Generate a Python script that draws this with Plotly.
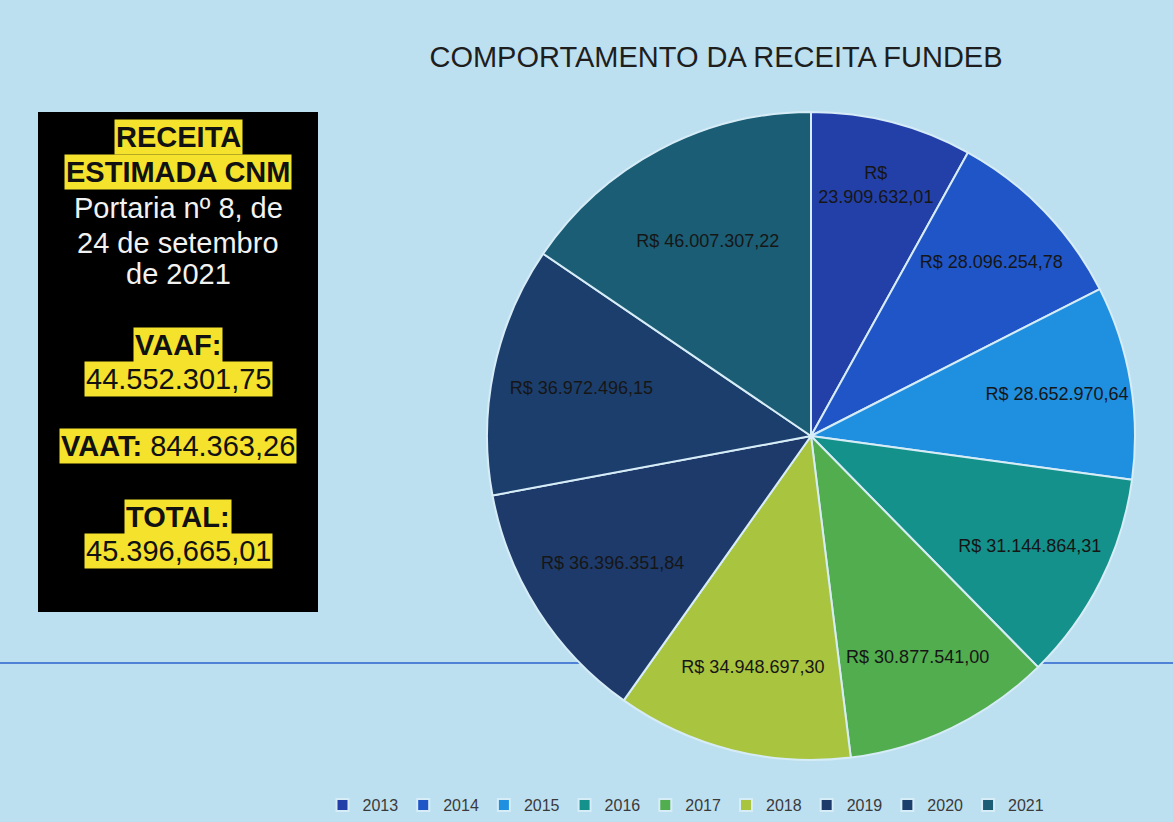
import plotly.graph_objects as go

W, H = 1173, 822

anos = ['2013', '2014', '2015', '2016', '2017', '2018', '2019', '2020', '2021']
receita = [23909632.01, 28096254.78, 28652970.64, 31144864.31, 30877541.00,
           34948697.30, 36396351.84, 36972496.15, 46007307.22]
rotulos = ['R$<br>23.909.632,01', 'R$ 28.096.254,78', 'R$ 28.652.970,64',
           'R$ 31.144.864,31', 'R$ 30.877.541,00', 'R$ 34.948.697,30',
           'R$ 36.396.351,84', 'R$ 36.972.496,15', 'R$ 46.007.307,22']
cores = ['#2340a8', '#1f55c6', '#1f8fe0', '#14918a', '#52ad4f',
         '#a9c43f', '#1d3a6b', '#1c3e6c', '#1a5d74']


def px(x):
    return x / W


def py(y):
    return 1 - y / H


R = 324
fig = go.Figure()
fig.add_trace(go.Pie(
    labels=anos, values=receita, text=rotulos,
    textinfo='text', textposition='inside', insidetextorientation='horizontal',
    marker=dict(colors=cores, line=dict(color='#d6ecf7', width=2)),
    sort=False, direction='clockwise', rotation=0,
    textfont=dict(family='Arial', size=18, color='#161616'),
    domain=dict(x=[px(811 - R), px(811 + R)], y=[py(436 + R), py(436 - R)]),
    hoverinfo='label+text'))

shapes = [
    dict(type='line', xref='paper', yref='paper', x0=0, x1=1, y0=py(663), y1=py(663),
         line=dict(color='#4f82d6', width=2), layer='below'),
    dict(type='rect', xref='paper', yref='paper', x0=px(38), x1=px(318),
         y0=py(612), y1=py(112), fillcolor='#000000', line=dict(width=0)),
]

amarelo = '#f4e22c'
caixa = [
    ('<b>RECEITA</b>', 137, True),
    ('<b>ESTIMADA CNM</b>', 172, True),
    ('Portaria nº 8, de', 208, False),
    ('24 de setembro', 243, False),
    ('de 2021', 274, False),
    ('<b>VAAF:</b>', 345, True),
    ('44.552.301,75', 379, True),
    ('<b>VAAT:</b> 844.363,26', 446, True),
    ('<b>TOTAL:</b>', 517, True),
    ('45.396,665,01', 551, True),
]
annotations = []
for txt, y, hl in caixa:
    annotations.append(dict(
        text=txt, x=px(178), y=py(y), xref='paper', yref='paper',
        showarrow=False, xanchor='center', yanchor='middle',
        font=dict(family='Arial', size=29, color='#111111' if hl else '#f2f2f2'),
        bgcolor=amarelo if hl else 'rgba(0,0,0,0)', borderpad=1))

fig.update_layout(
    width=W, height=H,
    margin=dict(l=0, r=0, t=0, b=0),
    paper_bgcolor='#bde0f1', plot_bgcolor='#bde0f1',
    title=dict(text='COMPORTAMENTO DA RECEITA FUNDEB', x=px(716), y=py(57),
               xanchor='center', yanchor='middle',
               font=dict(family='Arial', size=29, color='#1e1e1e')),
    legend=dict(orientation='h', x=px(686), y=py(805), xanchor='center', yanchor='middle',
                font=dict(family='Arial', size=16, color='#3a3a3a'),
                bgcolor='rgba(0,0,0,0)', itemwidth=30),
    shapes=shapes, annotations=annotations,
)

fig.write_html('out.html', config={'displayModeBar': False},
               post_script="document.body.style.margin='0';")
